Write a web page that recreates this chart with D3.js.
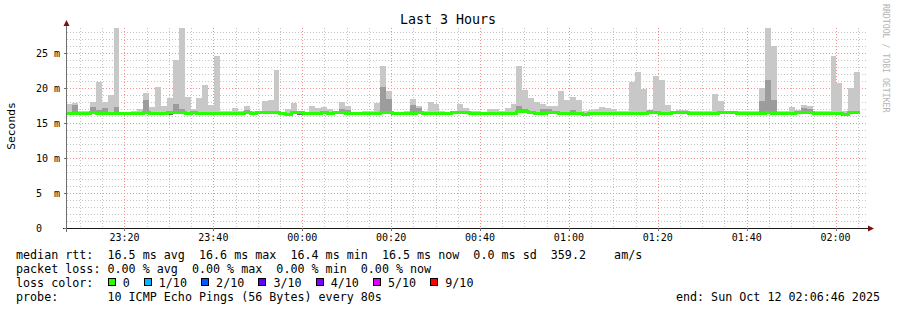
<!DOCTYPE html>
<html>
<head>
<meta charset="utf-8">
<script src="https://cdn.jsdelivr.net/npm/d3@7"></script>
<style>
    body { margin: 0; background: #fff; }
    svg { display: block; font-family: "DejaVu Sans Mono", monospace; }
</style>
</head>
<body>
<svg id="chart" width="897" height="310"></svg>
<script>
// Smokeping samples, one per 80s step (milliseconds)
var medianRtt = [
    16.5, 16.5, 16.5, 16.5, 16.6, 16.5, 16.5, 16.4, 16.4, 16.5,
    16.5, 16.4, 16.5, 16.6, 16.5, 16.4, 16.4, 16.6, 16.6, 16.6,
    16.4, 16.6, 16.5, 16.4, 16.4, 16.5, 16.5, 16.5, 16.5, 16.5,
    16.6, 16.5, 16.6, 16.6, 16.6, 16.6, 16.4, 16.3, 16.6, 16.6,
    16.5, 16.5, 16.5, 16.6, 16.5, 16.6, 16.6, 16.5, 16.4, 16.4,
    16.4, 16.4, 16.5, 16.6, 16.6, 16.5, 16.4, 16.4, 16.5, 16.6,
    16.5, 16.4, 16.4, 16.5, 16.5, 16.6, 16.6, 16.6, 16.5, 16.5,
    16.5, 16.5, 16.5, 16.5, 16.5, 16.5, 16.7, 16.7, 16.6, 16.4,
    16.5, 16.6, 16.6, 16.5, 16.5, 16.5, 16.4, 16.3, 16.4, 16.4,
    16.5, 16.5, 16.4, 16.5, 16.5, 16.4, 16.4, 16.5, 16.6, 16.6,
    16.5, 16.5, 16.6, 16.6, 16.6, 16.5, 16.5, 16.4, 16.4, 16.5,
    16.6, 16.6, 16.6, 16.5, 16.5, 16.5, 16.5, 16.5, 16.6, 16.5,
    16.5, 16.5, 16.5, 16.6, 16.6, 16.6, 16.5, 16.5, 16.5, 16.5,
    16.4, 16.3, 16.6, 16.6
];

var minRtt = [
    16.4, 16.3, 16.4, 16.4, 16.5, 16.4, 16.4, 16.3, 16.3, 16.1,
    16.4, 16.3, 16.4, 16.5, 16.4, 16.3, 16.3, 16.1, 16.5, 16.5,
    16.3, 16.5, 16.4, 16.3, 16.3, 16.4, 16.4, 16.4, 16.4, 16.4,
    16.5, 16.4, 16.5, 16.5, 16.5, 16.5, 16.3, 16.2, 16.5, 16.2,
    16.4, 16.4, 16.4, 16.5, 16.4, 16.5, 16.5, 16.4, 16.3, 16.3,
    16.3, 16.3, 16.4, 16.5, 16.5, 16.4, 16.3, 16.3, 16.4, 16.5,
    16.4, 16.3, 16.3, 16.4, 16.4, 16.5, 16.5, 16.5, 16.4, 16.4,
    16.4, 16.4, 16.4, 16.4, 16.4, 16.4, 16.6, 16.6, 16.5, 16.3,
    16.4, 16.5, 16.5, 16.4, 16.4, 16.4, 16.3, 16.2, 16.3, 16.3,
    16.4, 16.4, 16.3, 16.4, 16.4, 16.3, 16.3, 16.4, 16.5, 16.5,
    16.4, 16.4, 16.5, 16.5, 16.5, 16.4, 16.4, 16.3, 16.3, 16.4,
    16.5, 16.5, 16.5, 16.4, 16.4, 16.4, 16.4, 16.4, 16.5, 16.4,
    16.4, 16.4, 16.4, 16.5, 16.5, 16.5, 16.4, 16.4, 16.4, 16.4,
    16.3, 16.2, 16.5, 16.5
];

var maxRtt = [
    17.7, 17.9, 16.7, 16.7, 18.0, 20.9, 18.0, 19.0, 28.6, 16.6,
    16.6, 16.8, 17.0, 19.3, 17.3, 20.1, 17.4, 18.6, 24.0, 28.6,
    18.7, 17.0, 18.6, 20.4, 17.6, 24.6, 16.7, 16.7, 17.1, 16.8,
    17.4, 16.7, 16.8, 18.1, 18.3, 22.6, 16.6, 17.0, 17.9, 16.8,
    16.6, 17.4, 17.1, 17.3, 17.0, 16.7, 18.0, 17.4, 16.6, 16.6,
    16.8, 16.8, 17.9, 23.1, 19.6, 16.6, 16.6, 16.8, 18.4, 17.4,
    16.7, 18.0, 17.7, 16.8, 16.6, 16.6, 17.7, 17.1, 16.8, 16.8,
    16.6, 17.0, 17.0, 16.8, 17.1, 17.7, 23.1, 19.7, 18.6, 18.0,
    17.7, 17.4, 17.4, 19.6, 18.3, 18.7, 18.3, 16.8, 16.9, 17.0,
    17.3, 17.2, 17.0, 16.7, 16.7, 20.9, 22.3, 19.9, 16.9, 21.7,
    21.1, 17.6, 16.7, 16.9, 16.9, 16.7, 16.7, 16.7, 16.8, 19.1,
    18.1, 16.7, 16.7, 16.7, 16.7, 16.7, 16.7, 20.0, 28.6, 26.0,
    16.7, 16.7, 17.3, 16.9, 17.6, 17.4, 16.7, 16.7, 16.7, 24.6,
    20.7, 16.7, 20.0, 22.3
];

// Top of the darker inner smoke band, null where it is not visible
var innerRtt = [
    null, 17.6, null, null, 17.3, 16.9, 17.1, null, 17.3, null,
    null, null, null, 18.3, null, null, null, null, 17.7, 17.0,
    null, null, null, null, null, null, null, null, null, null,
    16.9, null, null, null, null, null, null, null, null, null,
    null, null, null, null, null, null, 17.0, 16.9, null, null,
    null, null, null, 20.1, 18.4, null, null, null, 17.6, 17.1,
    null, null, null, null, null, null, null, null, null, null,
    null, null, null, null, null, null, 17.4, 17.0, null, null,
    17.0, 17.0, null, null, null, 16.9, null, null, null, null,
    null, null, null, null, null, null, null, null, 16.9, null,
    null, null, null, null, null, null, null, null, null, null,
    null, null, null, null, null, null, null, 18.1, 21.1, 18.3,
    null, null, null, null, 17.1, 17.0, null, null, null, null,
    null, null, null, null
];

var yTicks = [0, 5, 10, 15, 20, 25];

var lossLabels = ["0", "1/10", "2/10", "3/10", "4/10", "5/10", "9/10"];
var lossColors = ["#26ff00", "#00b8ff", "#0059ff", "#5e00ff", "#7e00ff", "#dd00ff", "#ff0000"];

var statsLine = "median rtt:  16.5 ms avg  16.6 ms max  16.4 ms min  16.5 ms now  0.0 ms sd  359.2    am/s";
var lossLine = "packet loss: 0.00 % avg  0.00 % max  0.00 % min  0.00 % now";
var probeLine = "probe:       10 ICMP Echo Pings (56 Bytes) every 80s";
var endLine = "end: Sun Oct 12 02:06:46 2025";

// Time settings
var stepMs = 80 * 1000;
var firstStep = Date.UTC(2025, 9, 11, 23, 6, 52);
var viewStart = new Date(Date.UTC(2025, 9, 11, 23, 7, 4));
var viewEnd = new Date(Date.UTC(2025, 9, 12, 2, 7, 4));

// Layout
var plot = {left: 67, right: 867, top: 28, bottom: 228};
var svg = d3.select("#chart");

var x = d3.scaleUtc()
    .domain([viewStart, viewEnd])
    .range([plot.left, plot.right]);

var y = d3.scaleLinear()
    .domain([0, d3.max(maxRtt)])
    .range([plot.bottom, plot.top]);

var px = function(v) { return Math.round(v) + 0.5; };

// SVG collapses runs of spaces, keep them with no-break spaces
var keepSpaces = function(s) { return s.replace(/ /g, "\u00a0"); };

svg.append("rect")
    .attr("width", 897).attr("height", 310)
    .attr("fill", "#ffffff");

svg.append("clipPath").attr("id", "plot-clip")
    .append("rect")
    .attr("x", plot.left).attr("y", plot.top - 2)
    .attr("width", plot.right - plot.left)
    .attr("height", plot.bottom - plot.top + 2);

// Grid lines
var grid = svg.append("g")
    .attr("shape-rendering", "crispEdges");

var minorTimes = x.ticks(d3.utcMinute.every(5));
var majorTimes = x.ticks(d3.utcMinute.every(20));
var majorKeys = new Set(majorTimes.map(function(d) { return +d; }));

grid.selectAll(".vminor")
    .data(minorTimes.filter(function(d) { return !majorKeys.has(+d); }))
    .join("line")
    .attr("class", "vminor")
    .attr("x1", function(d) { return px(x(d)); })
    .attr("x2", function(d) { return px(x(d)); })
    .attr("y1", plot.top).attr("y2", plot.bottom)
    .attr("stroke", "#c4c4c4")
    .attr("stroke-dasharray", "1,2");

var minorValues = d3.range(1, Math.floor(y.domain()[1]) + 1)
    .filter(function(d) { return d % 5 !== 0; });

grid.selectAll(".hminor")
    .data(minorValues)
    .join("line")
    .attr("class", "hminor")
    .attr("x1", plot.left).attr("x2", plot.right)
    .attr("y1", function(d) { return px(y(d)); })
    .attr("y2", function(d) { return px(y(d)); })
    .attr("stroke", "#c4c4c4")
    .attr("stroke-dasharray", "1,2");

grid.selectAll(".vmajor")
    .data(majorTimes)
    .join("line")
    .attr("class", "vmajor")
    .attr("x1", function(d) { return px(x(d)); })
    .attr("x2", function(d) { return px(x(d)); })
    .attr("y1", plot.top).attr("y2", plot.bottom)
    .attr("stroke", "#f09090")
    .attr("stroke-dasharray", "1,2");

grid.selectAll(".hmajor")
    .data(yTicks.filter(function(d) { return d > 0; }))
    .join("line")
    .attr("class", "hmajor")
    .attr("x1", plot.left).attr("x2", plot.right)
    .attr("y1", function(d) { return px(y(d)); })
    .attr("y2", function(d) { return px(y(d)); })
    .attr("stroke", "#f09090")
    .attr("stroke-dasharray", "1,2");

// Smoke bars
var steps = medianRtt.map(function(m, i) {
    return {
        t0: new Date(firstStep + i * stepMs),
        t1: new Date(firstStep + (i + 1) * stepMs),
        median: m,
        min: minRtt[i],
        max: maxRtt[i],
        inner: innerRtt[i]
    };
});

var smoke = svg.append("g")
    .attr("clip-path", "url(#plot-clip)")
    .attr("shape-rendering", "crispEdges");

var barX = function(d) { return Math.round(x(d.t0)); };
var barW = function(d) { return Math.round(x(d.t1)) - Math.round(x(d.t0)); };

smoke.selectAll(".light")
    .data(steps)
    .join("rect")
    .attr("class", "light")
    .attr("x", barX)
    .attr("width", barW)
    .attr("y", function(d) { return Math.round(y(d.max)); })
    .attr("height", function(d) { return Math.round(y(d.min)) - Math.round(y(d.max)); })
    .attr("fill", "#c8c8c8");

smoke.selectAll(".mid")
    .data(steps.filter(function(d) { return d.inner != null; }))
    .join("rect")
    .attr("class", "mid")
    .attr("x", barX)
    .attr("width", barW)
    .attr("y", function(d) { return Math.round(y(d.inner)); })
    .attr("height", function(d) { return Math.round(y(d.median)) - Math.round(y(d.inner)); })
    .attr("fill", "#9c9c9c");

smoke.selectAll(".dark")
    .data(steps)
    .join("rect")
    .attr("class", "dark")
    .attr("x", barX)
    .attr("width", barW)
    .attr("y", function(d) { return Math.round(y(d.median)); })
    .attr("height", function(d) { return Math.round(y(d.min)) - Math.round(y(d.median)); })
    .attr("fill", "#6a6a6a");

// Median line coloured by loss (all 0 here)
var linePoints = steps.map(function(d) { return [d.t0, d.median]; });
linePoints.push([steps[steps.length - 1].t1, steps[steps.length - 1].median]);

svg.append("path")
    .datum(linePoints)
    .attr("clip-path", "url(#plot-clip)")
    .attr("fill", "none")
    .attr("stroke", lossColors[0])
    .attr("stroke-width", 3)
    .attr("shape-rendering", "crispEdges")
    .attr("d", d3.line()
        .curve(d3.curveStepAfter)
        .x(function(d) { return Math.round(x(d[0])); })
        .y(function(d) { return Math.round(y(d[1])) + 0.5; }));

// Axes
var axes = svg.append("g").attr("shape-rendering", "crispEdges");

axes.append("line")
    .attr("x1", plot.left - 4).attr("x2", plot.right + 2)
    .attr("y1", plot.bottom + 0.5).attr("y2", plot.bottom + 0.5)
    .attr("stroke", "#1a1a1a");

axes.append("line")
    .attr("x1", plot.left - 0.5).attr("x2", plot.left - 0.5)
    .attr("y1", plot.bottom + 4).attr("y2", plot.top - 3)
    .attr("stroke", "#707070");

axes.selectAll(".ytick")
    .data(yTicks)
    .join("line")
    .attr("class", "ytick")
    .attr("x1", plot.left - 3).attr("x2", plot.left)
    .attr("y1", function(d) { return px(y(d)); })
    .attr("y2", function(d) { return px(y(d)); })
    .attr("stroke", "#707070");

axes.selectAll(".xtick")
    .data(majorTimes)
    .join("line")
    .attr("class", "xtick")
    .attr("x1", function(d) { return px(x(d)); })
    .attr("x2", function(d) { return px(x(d)); })
    .attr("y1", plot.bottom).attr("y2", plot.bottom + 3)
    .attr("stroke", "#707070");

// Axis arrows
svg.append("path")
    .attr("d", d3.line()([[plot.left - 3.5, plot.top - 2], [plot.left + 2.5, plot.top - 2], [plot.left - 0.5, plot.top - 8]]))
    .attr("fill", "#7a1010");

svg.append("path")
    .attr("d", d3.line()([[plot.right + 1, plot.bottom - 2.5], [plot.right + 1, plot.bottom + 3.5], [plot.right + 7, plot.bottom + 0.5]]))
    .attr("fill", "#7a1010");

// Y labels: number left aligned, unit right aligned
var yLabels = svg.append("g").attr("font-size", "10px").attr("fill", "#000");

yLabels.selectAll(".ynum")
    .data(yTicks)
    .join("text")
    .attr("class", "ynum")
    .attr("x", 36)
    .attr("y", function(d) { return y(d) + 3.6; })
    .text(function(d) { return d; });

yLabels.selectAll(".yunit")
    .data(yTicks.filter(function(d) { return d > 0; }))
    .join("text")
    .attr("class", "yunit")
    .attr("x", 60)
    .attr("text-anchor", "end")
    .attr("y", function(d) { return y(d) + 3.6; })
    .text("m");

svg.append("g")
    .attr("font-size", "10px")
    .selectAll("text")
    .data(majorTimes)
    .join("text")
    .attr("x", function(d) { return x(d); })
    .attr("y", 241)
    .attr("text-anchor", "middle")
    .text(d3.utcFormat("%H:%M"));

// Title and side texts
svg.append("text")
    .attr("x", 448).attr("y", 24)
    .attr("text-anchor", "middle")
    .attr("font-size", "13.3px")
    .text("Last 3 Hours");

svg.append("text")
    .attr("transform", "translate(15,126) rotate(-90)")
    .attr("text-anchor", "middle")
    .attr("font-size", "11.3px")
    .text("Seconds");

svg.append("text")
    .attr("transform", "translate(883,4) rotate(90)")
    .attr("font-size", "8.2px")
    .attr("fill", "#b4b4b4")
    .text("RRDTOOL / TOBI OETIKER");

// Legend
var cw = 7.05;
var legend = svg.append("g")
    .attr("font-size", "11.7px");

var rows = [259, 272.6, 286.6, 300.6];

legend.append("text").attr("x", 16).attr("y", rows[0]).text(keepSpaces(statsLine));
legend.append("text").attr("x", 16).attr("y", rows[1]).text(keepSpaces(lossLine));
legend.append("text").attr("x", 16).attr("y", rows[2]).text("loss color:");
legend.append("text").attr("x", 16).attr("y", rows[3]).text(keepSpaces(probeLine));
legend.append("text").attr("x", 880).attr("y", rows[3])
    .attr("text-anchor", "end")
    .text(endLine);

var cursor = 16 + 13 * cw;
var lossItems = lossLabels.map(function(label, i) {
    var item = {label: label, color: lossColors[i], x: cursor};
    cursor += 15 + (label.length + 2) * cw;
    return item;
});

legend.selectAll(".lossbox")
    .data(lossItems)
    .join("rect")
    .attr("class", "lossbox")
    .attr("x", function(d) { return Math.round(d.x) + 0.5; })
    .attr("y", rows[2] - 8.5)
    .attr("width", 7).attr("height", 7)
    .attr("fill", function(d) { return d.color; })
    .attr("stroke", "#000")
    .attr("shape-rendering", "crispEdges");

legend.selectAll(".losslabel")
    .data(lossItems)
    .join("text")
    .attr("class", "losslabel")
    .attr("x", function(d) { return d.x + 15; })
    .attr("y", rows[2])
    .text(function(d) { return d.label; });
</script>
</body>
</html>
